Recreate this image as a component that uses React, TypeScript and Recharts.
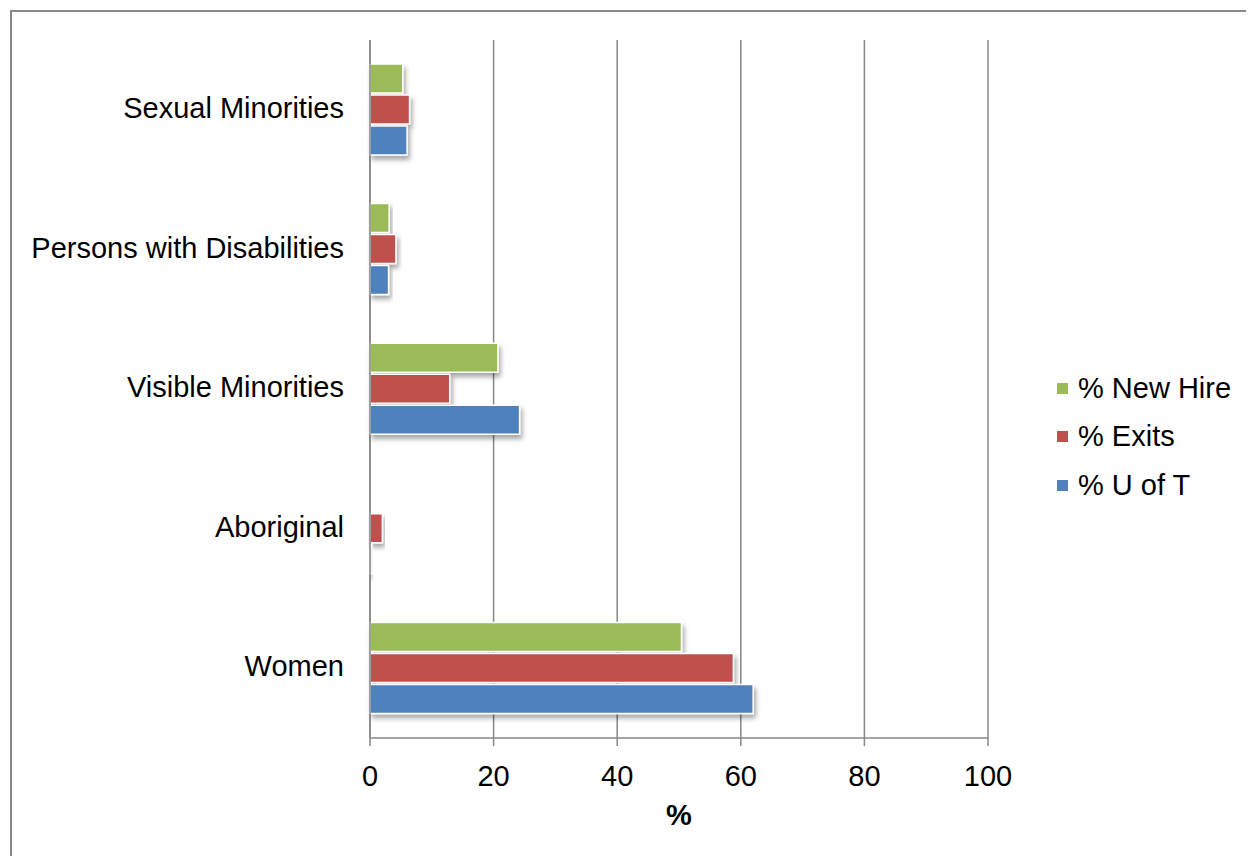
import React from 'react';
import { BarChart, Bar, XAxis, YAxis, CartesianGrid, Legend, Label } from 'recharts';

const categories = ['Sexual Minorities', 'Persons with Disabilities', 'Visible Minorities', 'Aboriginal', 'Women'];
const newHire = [5.3, 3.1, 20.7, 0, 50.4];
const exits = [6.4, 4.2, 12.9, 2.0, 58.8];
const uOfT = [6.0, 3.0, 24.2, 0.3, 62.0];
const xTicks = [0, 20, 40, 60, 80, 100];

const SERIES = [
  { key: 'newHire', name: '% New Hire', color: '#9BBB59' },
  { key: 'exits', name: '% Exits', color: '#C0504D' },
  { key: 'uOfT', name: '% U of T', color: '#4F81BD' },
];

const FONT = '"Liberation Sans", Arial, sans-serif';
const GRID = '#878787';

const data = categories.map((name, i) => ({
  name,
  newHire: newHire[i],
  exits: exits[i],
  uOfT: uOfT[i],
}));

function LegendBox() {
  return (
    <div style={{ fontFamily: FONT, fontSize: 29, color: '#000' }}>
      {SERIES.map((s) => (
        <div key={s.key} style={{ display: 'flex', alignItems: 'center', height: 48.5 }}>
          <span style={{ width: 11, height: 11, background: s.color, marginRight: 10, display: 'inline-block' }} />
          <span>{s.name}</span>
        </div>
      ))}
    </div>
  );
}

export default function App() {
  return (
    <div style={{ position: 'relative', width: 1246, height: 848, overflow: 'hidden', background: '#fff' }}>
      <div
        style={{
          position: 'absolute',
          left: 2,
          top: 2,
          width: 2000,
          height: 2000,
          border: '2px solid #898989',
        }}
      />
      <div style={{ position: 'absolute', left: 0, top: 0 }}>
        <BarChart
          width={1246}
          height={848}
          data={data}
          layout="vertical"
          margin={{ top: 32, right: 266, bottom: 0, left: 0 }}
          barSize={29}
          barGap={2}
        >
          <defs>
            <filter id="barShadow" x="-10%" y="-20%" width="130%" height="170%">
              <feDropShadow dx="2" dy="4" stdDeviation="2.5" floodColor="#000" floodOpacity="0.35" />
            </filter>
          </defs>
          <CartesianGrid horizontal={false} stroke={GRID} strokeWidth={1.5} />
          <XAxis
            type="number"
            domain={[0, 100]}
            ticks={xTicks}
            height={118}
            axisLine={{ stroke: GRID, strokeWidth: 1.5 }}
            tickLine={{ stroke: GRID, strokeWidth: 1.5 }}
            tickSize={8}
            tickMargin={19}
            tick={{ fill: '#000', fontSize: 29, fontFamily: FONT }}
          >
            <Label
              value="%"
              position="insideBottom"
              offset={31}
              style={{ fill: '#000', fontSize: 29, fontWeight: 'bold', fontFamily: FONT }}
            />
          </XAxis>
          <YAxis
            type="category"
            dataKey="name"
            width={362}
            axisLine={{ stroke: GRID, strokeWidth: 1.5 }}
            tickLine={false}
            tickSize={0}
            tickMargin={26}
            tick={{ fill: '#000', fontSize: 29, fontFamily: FONT, dy: -2 }}
          />
          <Legend
            layout="vertical"
            align="center"
            verticalAlign="middle"
            content={() => <LegendBox />}
            wrapperStyle={{ left: 1049, top: 356, width: 195 }}
          />
          {SERIES.map((s) => (
            <Bar
              key={s.key}
              dataKey={s.key}
              name={s.name}
              fill={s.color}
              stroke="#fff"
              strokeWidth={1.5}
              filter="url(#barShadow)"
              isAnimationActive={false}
            />
          ))}
        </BarChart>
      </div>
    </div>
  );
}
